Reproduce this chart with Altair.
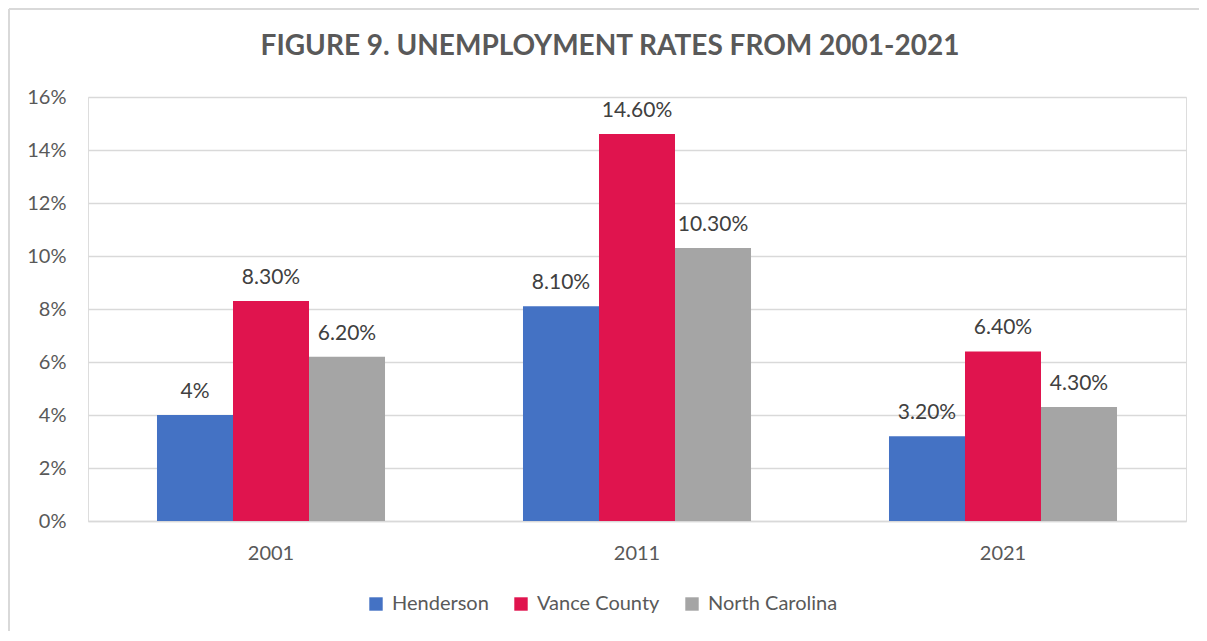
import altair as alt
import pandas as pd

title_text = "FIGURE 9. UNEMPLOYMENT RATES FROM 2001-2021"
years = ["2001", "2011", "2021"]
series = ["Henderson", "Vance County", "North Carolina"]
henderson = [4.0, 8.1, 3.2]
vance = [8.3, 14.6, 6.4]
nc = [6.2, 10.3, 4.3]
henderson_lbl = ["4%", "8.10%", "3.20%"]
vance_lbl = ["8.30%", "14.60%", "6.40%"]
nc_lbl = ["6.20%", "10.30%", "4.30%"]
colors = ["#4472C4", "#E0144E", "#A5A5A5"]
y_ticks = [0, 2, 4, 6, 8, 10, 12, 14, 16]

rows = []
for s, vals, lbls in zip(series, [henderson, vance, nc], [henderson_lbl, vance_lbl, nc_lbl]):
    for y, v, l in zip(years, vals, lbls):
        rows.append({"Year": y, "Series": s, "Rate": v, "Label": l})
df = pd.DataFrame(rows)

FONT = "Lato"
GRAY = "#595959"

x_enc = alt.X("Year:N", sort=years, title=None,
              scale=alt.Scale(paddingInner=0.377, paddingOuter=0.1885),
              axis=alt.Axis(labelAngle=0, ticks=False, domain=True, domainColor="#D9D9D9",
                            domainWidth=1.5, labelFont=FONT, labelFontSize=20, labelColor=GRAY,
                            labelPadding=22, grid=False))
xoff = alt.XOffset("Series:N", sort=series)
y_enc = alt.Y("Rate:Q", title=None,
              scale=alt.Scale(domain=[0, 16], nice=False),
              axis=alt.Axis(values=y_ticks, labelExpr="datum.value + '%'", ticks=False, domain=False,
                            gridColor="#D9D9D9", gridWidth=1.5, labelFont=FONT, labelFontSize=20,
                            labelColor=GRAY, labelPadding=22))

base = alt.Chart(df)
bars = base.mark_bar().encode(
    x=x_enc, xOffset=xoff, y=y_enc,
    color=alt.Color("Series:N", sort=series, scale=alt.Scale(domain=series, range=colors),
                    legend=alt.Legend(title=None, orient="none", direction="horizontal",
                                      legendX=278, legendY=497, symbolType="square", symbolSize=180,
                                      symbolStrokeWidth=0, labelFont=FONT, labelFontSize=20,
                                      labelColor=GRAY, columnPadding=22, labelOffset=6)),
)
text = base.mark_text(font=FONT, fontSize=21, color="#404040", baseline="alphabetic", dy=-17).encode(
    x=alt.X("Year:N", sort=years), xOffset=xoff, y="Rate:Q", text="Label:N"
)
one = pd.DataFrame({"a": [0]})
frame_top = alt.Chart(one).mark_rule(color="#D9D9D9", strokeWidth=2).encode(
    x=alt.value(-79), x2=alt.value(1120), y=alt.value(-88))
frame_left = alt.Chart(one).mark_rule(color="#D9D9D9", strokeWidth=2).encode(
    x=alt.value(-79), y=alt.value(-88), y2=alt.value(540))
title = alt.Chart(one).mark_text(text=title_text, font=FONT, fontSize=28, fontWeight="bold",
                                 color=GRAY, align="center", baseline="alphabetic").encode(
    x=alt.value(522), y=alt.value(-42))

chart = alt.layer(frame_top, frame_left, title, bars, text).properties(
    width=1098, height=424,
    autosize=alt.AutoSizeParams(type="none"),
    padding={"left": 80, "top": 89, "right": 13, "bottom": 110},
).configure_view(stroke=None).configure(background="white")

chart.save("out.html", embed_options={"renderer": "svg", "actions": False})
